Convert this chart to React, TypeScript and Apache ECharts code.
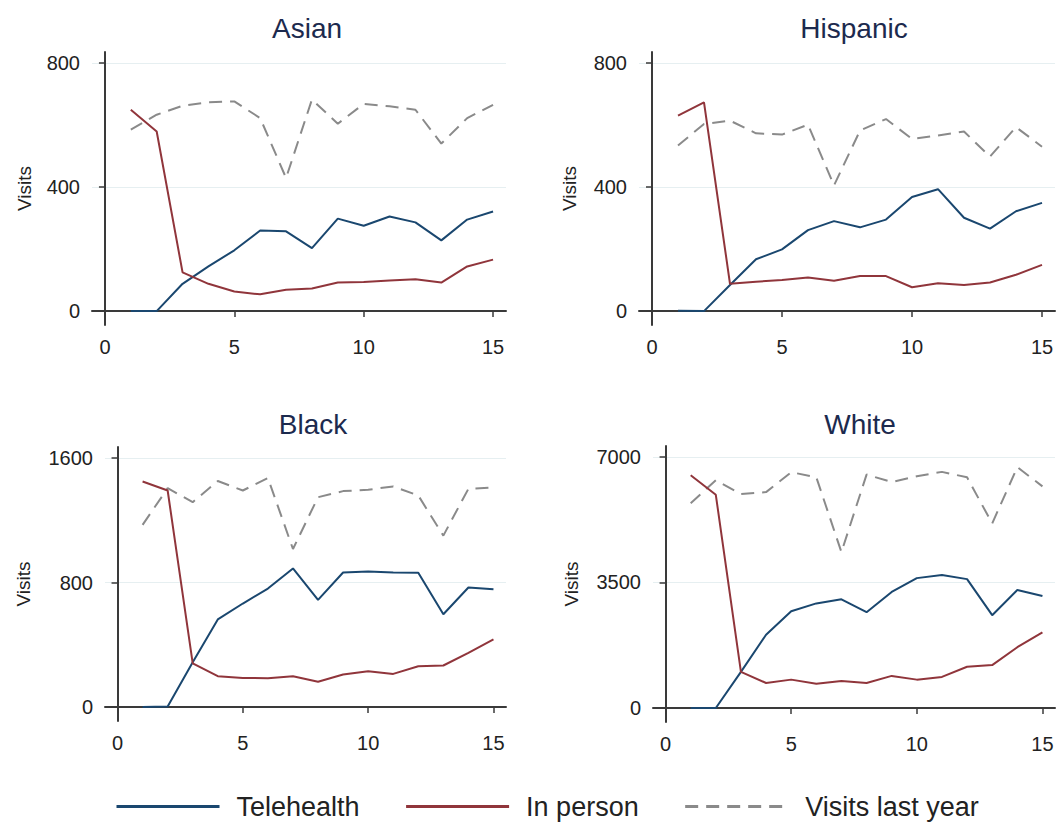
import React, { useEffect, useRef } from "react";
import * as echarts from "echarts";

const weeks = [1, 2, 3, 4, 5, 6, 7, 8, 9, 10, 11, 12, 13, 14, 15];
const panels = ["Asian", "Hispanic", "Black", "White"];
const seriesNames = ["Telehealth", "In person", "Visits last year"];

const asianTele = [0, 0, 88, 144, 196, 260, 257, 203, 298, 275, 305, 286, 228, 295, 321];
const asianInPerson = [649, 579, 125, 88, 63, 54, 69, 73, 92, 94, 99, 103, 92, 144, 166];
const asianLastYear = [585, 633, 662, 673, 676, 622, 429, 682, 604, 668, 660, 649, 540, 622, 665];

const hispanicTele = [1, 0, 84, 167, 199, 261, 290, 270, 295, 368, 393, 301, 266, 322, 349];
const hispanicInPerson = [630, 673, 88, 95, 100, 108, 98, 113, 113, 77, 90, 84, 92, 117, 149];
const hispanicLastYear = [534, 603, 614, 573, 569, 601, 405, 582, 619, 555, 566, 579, 498, 593, 530];

const blackTele = [0, 4, 288, 563, 665, 761, 890, 688, 864, 871, 864, 862, 596, 768, 757];
const blackInPerson = [1449, 1391, 280, 198, 187, 185, 198, 163, 209, 230, 213, 262, 267, 348, 434];
const blackLastYear = [1170, 1406, 1316, 1452, 1391, 1471, 1015, 1348, 1387, 1396, 1417, 1359, 1101, 1402, 1411];

const whiteTele = [0, 0, 1007, 2042, 2700, 2917, 3030, 2672, 3237, 3622, 3707, 3594, 2588, 3293, 3124];
const whiteInPerson = [6492, 5947, 1007, 696, 790, 677, 753, 696, 894, 790, 866, 1148, 1195, 1694, 2108];
const whiteLastYear = [5711, 6351, 5965, 6022, 6577, 6436, 4347, 6511, 6304, 6464, 6586, 6436, 5147, 6718, 6182];

const xTicks = [0, 5, 10, 15];
const asianYTicks = [0, 400, 800];
const hispanicYTicks = [0, 400, 800];
const blackYTicks = [0, 800, 1600];
const whiteYTicks = [0, 3500, 7000];

const panelData = [
  [asianTele, asianInPerson, asianLastYear],
  [hispanicTele, hispanicInPerson, hispanicLastYear],
  [blackTele, blackInPerson, blackLastYear],
  [whiteTele, whiteInPerson, whiteLastYear],
];
const panelYTicks = [asianYTicks, hispanicYTicks, blackYTicks, whiteYTicks];

const FONT = "'Liberation Sans', Arial, Helvetica, sans-serif";
const BLUE = "#1a476f";
const RED = "#90353b";
const GRAY = "#8a8a8a";
const AXIS = "#3a3a3a";

const grids = [
  { left: 92, top: 52, width: 414, height: 273 },
  { left: 639, top: 52, width: 416, height: 273 },
  { left: 105, top: 447, width: 401, height: 274 },
  { left: 653, top: 446, width: 402, height: 276 },
];
const titlePos = [
  { x: 302, y: 9 },
  { x: 849, y: 9 },
  { x: 308, y: 405 },
  { x: 855, y: 405 },
];
const nameGaps = [58, 60, 72, 72];

export default function App() {
  const ref = useRef<HTMLDivElement>(null);
  useEffect(() => {
    if (!ref.current) return;
    const chart = echarts.init(ref.current, undefined, { renderer: "svg" });
    const colors = [BLUE, RED, GRAY];
    const series: any[] = [];
    panelData.forEach((sets, gi) => {
      sets.forEach((vals, si) => {
        series.push({
          name: seriesNames[si],
          type: "line",
          xAxisIndex: gi,
          yAxisIndex: gi,
          symbol: "none",
          data: weeks.map((w, i) => [w, vals[i]]),
          lineStyle: {
            color: colors[si],
            width: 2,
            type: si === 2 ? [13, 8] : "solid",
          },
          itemStyle: { color: colors[si] },
          z: si === 2 ? 1 : 2,
        });
      });
    });
    const option: any = {
      animation: false,
      backgroundColor: "#ffffff",
      title: panels.map((p, i) => ({
        text: p,
        left: titlePos[i].x,
        top: titlePos[i].y,
        textAlign: "center",
        textStyle: { fontFamily: FONT, fontSize: 28, fontWeight: "normal", color: "#1c2a4e" },
      })),
      grid: grids,
      xAxis: grids.map((_, i) => ({
        type: "value",
        gridIndex: i,
        min: -0.5,
        max: 15.5,
        axisLine: { show: true, lineStyle: { color: AXIS, width: 2 } },
        axisTick: { show: true, length: 6, lineStyle: { color: AXIS, width: 1.5 }, customValues: xTicks },
        axisLabel: { customValues: xTicks, fontFamily: FONT, fontSize: 20, color: "#222", margin: 12 },
        splitLine: { show: false },
      })),
      yAxis: grids.map((_, i) => {
        const t = panelYTicks[i];
        const top = t[t.length - 1];
        return {
          type: "value",
          gridIndex: i,
          min: -0.056 * top,
          max: 1.044 * top,
          name: "Visits",
          nameLocation: "middle",
          nameGap: nameGaps[i],
          nameTextStyle: { fontFamily: FONT, fontSize: 19, color: "#222" },
          axisLine: { show: true, lineStyle: { color: AXIS, width: 2 } },
          axisTick: { show: true, length: 6, lineStyle: { color: AXIS, width: 1.5 }, customValues: t },
          axisLabel: {
            customValues: t,
            formatter: (v: number) => String(v),
            fontFamily: FONT,
            fontSize: 20,
            color: "#222",
            margin: 12,
          },
          splitLine: { show: true, lineStyle: { color: "#e6eff1", width: 1.2 } },
        };
      }),
      legend: {
        data: seriesNames,
        left: 110,
        top: 788,
        itemWidth: 103,
        itemHeight: 14,
        itemGap: 45,
        itemStyle: { opacity: 0 },
        lineStyle: { width: 3 },
        textStyle: { fontFamily: FONT, fontSize: 27, color: "#222", padding: [0, 0, 0, 12] },
      },
      series,
    };
    chart.setOption(option);
    return () => chart.dispose();
  }, []);
  return (
    <div
      ref={ref}
      style={{ position: "absolute", left: 0, top: 0, width: 1057, height: 824 }}
    />
  );
}
